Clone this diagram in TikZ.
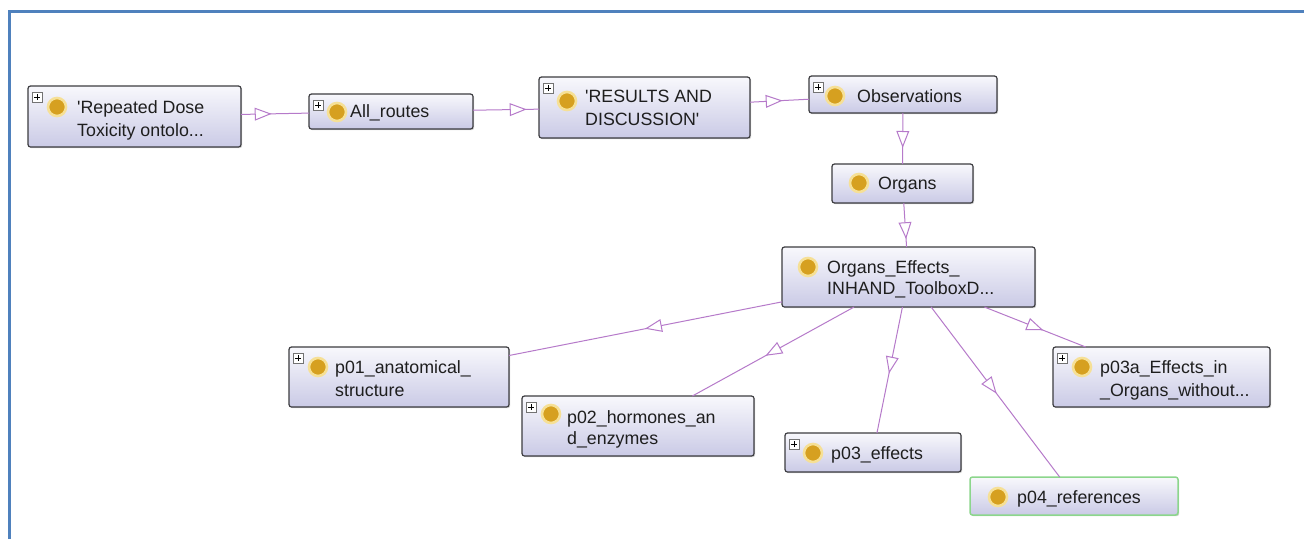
\documentclass[tikz,border=0pt]{standalone}
\usepackage{fontspec}
\setmainfont{Liberation Sans}
\usetikzlibrary{decorations.markings,shadows}

\definecolor{framecol}{RGB}{79,129,189}
\definecolor{boxedge}{RGB}{60,60,64}
\definecolor{boxtop}{RGB}{248,248,252}
\definecolor{boxbot}{RGB}{202,202,230}
\definecolor{edgecol}{RGB}{182,122,202}
\definecolor{dotcol}{RGB}{214,160,32}
\definecolor{dothalo}{RGB}{246,224,150}
\definecolor{selcol}{RGB}{140,214,140}
\definecolor{txt}{RGB}{30,30,30}

\tikzset{
  cls/.style={draw=boxedge, line width=1.2pt, rounded corners=2.5pt,
    top color=boxtop, bottom color=boxbot, inner sep=0pt, outer sep=0pt,
    drop shadow={shadow xshift=1.2pt, shadow yshift=-1.2pt, opacity=0.18, fill=black}},
  selected/.style={draw=selcol, line width=1.5pt},
  dot/.style={circle, fill=dotcol, draw=dothalo, line width=2.6pt,
    minimum size=18pt, inner sep=0pt},
  plusbox/.style={draw=black!55, fill=white, line width=0.6pt,
    minimum size=10pt, inner sep=0pt,
    path picture={\draw[black, line width=0.9pt]
      ([xshift=-3pt]path picture bounding box.center) -- ([xshift=3pt]path picture bounding box.center)
      ([yshift=-3pt]path picture bounding box.center) -- ([yshift=3pt]path picture bounding box.center);}},
  lbl/.style={anchor=mid west, inner sep=0pt, text=txt, yshift=-3.5pt,
    font=\fontsize{17.8}{20}\selectfont},
  isa/.style={draw=edgecol, line width=1pt},
  midtri/.style={postaction={decorate}, decoration={markings,
    mark=at position 0.5 with {\draw[draw=edgecol, fill=white, line width=1pt]
      (7.5pt,0) -- (-7.5pt,5.8pt) -- (-7.5pt,-5.8pt) -- cycle;}}}
}
% subclass link: plain line clipped at the boxes, open triangle halfway between centres
\newcommand{\isalink}[2]{%
  \draw[isa] (#1) -- (#2);
  \path[midtri] (#1.center) -- (#2.center);}

\begin{document}
\begin{tikzpicture}[x=1pt,y=-1pt]
\useasboundingbox (0,0) rectangle (1304,539);
\fill[white] (0,0) rectangle (1304,539);
\draw[framecol, line width=2.4pt] (9.5,539) -- (9.5,11.5) -- (1304,11.5);

% class boxes
\node[cls, minimum width=213pt, minimum height=61pt] (rep)  at (134.5,116.5) {};
\node[cls, minimum width=164pt, minimum height=35pt] (all)  at (391,111.5)   {};
\node[cls, minimum width=211pt, minimum height=61pt] (res)  at (644.5,107.5) {};
\node[cls, minimum width=188pt, minimum height=37pt] (obs)  at (903,94.5)    {};
\node[cls, minimum width=141pt, minimum height=39pt] (org)  at (902.5,183.5) {};
\node[cls, minimum width=253pt, minimum height=60pt] (oe)   at (908.5,277)   {};
\node[cls, minimum width=220pt, minimum height=60pt] (p01)  at (399,377)     {};
\node[cls, minimum width=232pt, minimum height=60pt] (p02)  at (638,426)     {};
\node[cls, minimum width=176pt, minimum height=39pt] (p03)  at (873,452.5)   {};
\node[cls, minimum width=217pt, minimum height=60pt] (p03a) at (1161.5,377)  {};
\node[cls, selected, minimum width=208pt, minimum height=38pt] (p04) at (1074,496) {};

% expand markers
\node[plusbox] (rep-plus)  at (37,97) {};
\node[plusbox] (all-plus)  at (318,105) {};
\node[plusbox] (res-plus)  at (548,88) {};
\node[plusbox] (obs-plus)  at (818,87) {};
\node[plusbox] (p01-plus)  at (298,358) {};
\node[plusbox] (p02-plus)  at (531,407) {};
\node[plusbox] (p03-plus)  at (794,444) {};
\node[plusbox] (p03a-plus) at (1062,358) {};

% class icons
\node[dot] (rep-dot)  at (57,107) {};
\node[dot] (all-dot)  at (337,112) {};
\node[dot] (res-dot)  at (567,101) {};
\node[dot] (obs-dot)  at (835,96) {};
\node[dot] (org-dot)  at (859,183) {};
\node[dot] (oe-dot)   at (808,267) {};
\node[dot] (p01-dot)  at (318,367) {};
\node[dot] (p02-dot)  at (551,414) {};
\node[dot] (p03-dot)  at (813,453) {};
\node[dot] (p03a-dot) at (1082,367) {};
\node[dot] (p04-dot)  at (998,497) {};

% labels
\node[lbl] (rep-a)  at (77,107)  {\textquotesingle Repeated Dose};
\node[lbl] (rep-b)  at (77,130)  {Toxicity ontolo...};
\node[lbl] (all-a)  at (350,111) {All\_routes};
\node[lbl] (res-a)  at (585,96)  {\textquotesingle RESULTS AND};
\node[lbl] (res-b)  at (585,119) {DISCUSSION\textquotesingle};
\node[lbl] (obs-a)  at (857,96)  {Observations};
\node[lbl] (org-a)  at (878,183) {Organs};
\node[lbl] (oe-a)   at (827,267) {Organs\_Effects\_};
\node[lbl] (oe-b)   at (827,288) {INHAND\_ToolboxD...};
\node[lbl] (p01-a)  at (335,367) {p01\_anatomical\_};
\node[lbl] (p01-b)  at (335,390) {structure};
\node[lbl] (p02-a)  at (567,417) {p02\_hormones\_an};
\node[lbl] (p02-b)  at (567,438) {d\_enzymes};
\node[lbl] (p03-a)  at (831,453) {p03\_effects};
\node[lbl] (p03a-a) at (1100,367) {p03a\_Effects\_in};
\node[lbl] (p03a-b) at (1100,390) {\_Organs\_without...};
\node[lbl] (p04-a)  at (1017,497) {p04\_references};

% subclass links
\isalink{rep}{all}
\isalink{all}{res}
\isalink{res}{obs}
\isalink{obs}{org}
\isalink{org}{oe}
\isalink{oe}{p01}
\isalink{oe}{p02}
\isalink{oe}{p03}
\isalink{oe}{p04}
\isalink{oe}{p03a}
\end{tikzpicture}
\end{document}
